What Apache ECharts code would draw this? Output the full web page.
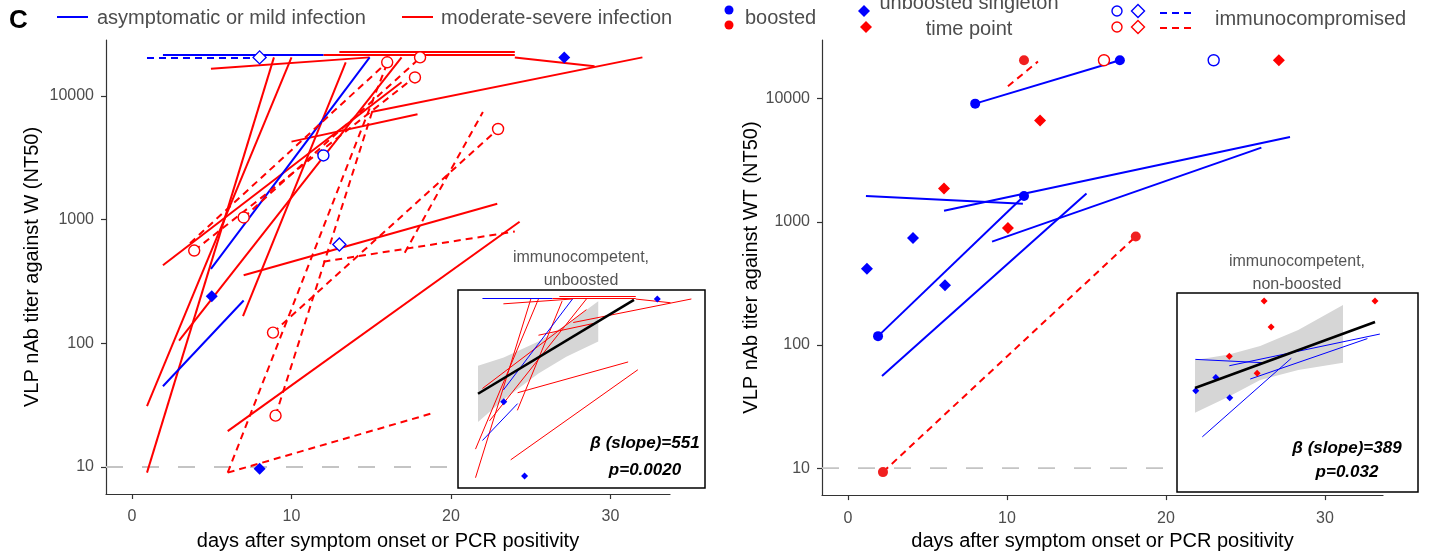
<!DOCTYPE html>
<html>
<head>
<meta charset="utf-8">
<script src="https://cdn.jsdelivr.net/npm/echarts@6/dist/echarts.min.js"></script>
<style>
  html, body { margin: 0; padding: 0; background: #fff; }
  #chart { width: 1438px; height: 556px; }
</style>
</head>
<body>
<div id="chart"></div>
<script>
// Each segment: [dayStart, titerStart, dayEnd, titerEnd]

// ---------- panel W ----------
const wSevereLines = [
  [0.94, 9, 8.9, 20480],
  [0.94, 31, 10.0, 20480],
  [1.94, 427, 16.9, 12900],
  [2.95, 105, 16.9, 20480],
  [6.96, 166, 13.4, 18700],
  [4.95, 16600, 14.9, 20480],
  [12.0, 21500, 24.0, 21500],
  [13.0, 22700, 24.0, 22700],
  [24.0, 20400, 29.0, 17400],
  [15.0, 7400, 32.0, 20480],
  [10.0, 4270, 17.9, 7100],
  [7.0, 355, 22.9, 1345],
  [6.0, 19.5, 24.3, 960]
];
const wMildLines = [
  [1.94, 21500, 12.0, 21500],
  [4.95, 400, 14.9, 20480],
  [1.94, 45, 7.0, 222]
];
const wMildImmunoLines = [
  [0.94, 20480, 8.0, 20480]
];
const wSevereImmunoLines = [
  [3.64, 645, 16.0, 18700],
  [3.9, 562, 17.7, 14100],
  [7.0, 1040, 18.1, 20480],
  [6.0, 9, 15.9, 17000],
  [6.0, 9, 19.0, 27.6],
  [9.0, 26, 15.05, 7400],
  [8.84, 122, 22.95, 5400],
  [12.0, 457, 24.0, 800],
  [17.1, 540, 22.0, 7400]
];
const wSevereImmunoCircles = [[3.9, 562], [7.0, 1040], [8.84, 122], [9.0, 26], [16.0, 18700], [17.74, 14100], [18.06, 20480], [22.95, 5400]];
const wMildImmunoCircles = [[12.0, 3300]];
const wMildImmunoDiamonds = [[8.0, 20480], [13.0, 630]];
const wMildSingletons = [[5.0, 240], [8.0, 9.7], [27.1, 20480]];

// inset fit for panel W
const wFitLine = [[1.3, 340], [23.74, 19700]];
const wBandUpper = [[1.3, 1135], [5, 1637], [10, 3273], [14, 6745], [18.6, 18490]];
const wBandLower = [[1.3, 100], [5, 266], [10, 820], [14, 1687], [18.6, 3273]];

// ---------- panel WT ----------
const wtMildLines = [
  [1.13, 1620, 11.0, 1400],
  [6.04, 1230, 27.8, 4870],
  [9.06, 690, 26.0, 4000],
  [2.14, 56, 15.0, 1700]
];
const wtMildBoostedLines = [
  [8.0, 9100, 17.1, 20480],
  [1.89, 118, 11.07, 1620]
];
const wtSevereImmunoLines = [
  [2.2, 9.3, 18.1, 760],
  [10.06, 12600, 11.95, 20000]
];
const wtMildBoosted = [[8.0, 9100], [17.1, 20480], [11.07, 1620], [1.89, 118]];
const wtSevereBoosted = [[11.07, 20480], [2.2, 9.3], [18.1, 760]];
const wtSevereImmunoCircles = [[16.1, 20480]];
const wtMildImmunoCircles = [[23.0, 20480]];
const wtSevereSingletons = [[6.04, 1860], [12.08, 6650], [10.06, 890], [27.1, 20480]];
const wtMildSingletons = [[4.09, 740], [1.19, 415], [6.1, 305]];
const wtInsetSevereExtra = [[11.07, 20480]];

// inset fit for panel WT
const wtFitLine = [[1.08, 468], [27.1, 8220]];
const wtBandUpper = [[1.08, 1578], [6, 2005], [10.5, 2897], [16, 5810], [22.47, 17200]];
const wtBandLower = [[1.08, 160], [6, 323], [10.5, 662], [16, 1021], [22.47, 1403]];

// axis labels
const dayTicks = [0, 10, 20, 30];
const titerTicks = [10, 100, 1000, 10000];
const xTitle = 'days after symptom onset or PCR positivity';

const RED = '#ff0000';
const BLUE = '#0000ff';
const FONT = "'Liberation Sans', Arial, Helvetica, sans-serif";
const DASH = [7, 5];

function segs(list) {
  return list.map(s => ({ coords: [[s[0], s[1]], [s[2], s[3]]] }));
}
function lines(list, idx, color, width, dashed) {
  return {
    type: 'lines', coordinateSystem: 'cartesian2d', xAxisIndex: idx, yAxisIndex: idx,
    data: segs(list), silent: true, z: 3,
    lineStyle: { color: color, width: width, type: dashed ? DASH : 'solid', opacity: 1, curveness: 0 }
  };
}
function points(list, idx, symbol, size, color, open) {
  return {
    type: 'scatter', xAxisIndex: idx, yAxisIndex: idx, data: list, silent: true, z: 4,
    symbol: symbol, symbolSize: size,
    itemStyle: open ? { color: '#fff', borderColor: color, borderWidth: 1.4, opacity: 1 }
                    : { color: color, opacity: 1 }
  };
}
// confidence band: upper edge then lower edge reversed, closed as one polygon
function band(upper, lower, idx) {
  return {
    type: 'custom', xAxisIndex: idx, yAxisIndex: idx, data: [[upper[0][0], upper[0][1]]],
    silent: true, z: 2,
    renderItem: function (params, api) {
      const pts = upper.map(p => api.coord(p)).concat(lower.slice().reverse().map(p => api.coord(p)));
      return { type: 'polygon', shape: { points: pts }, style: { fill: '#d6d6d6' } };
    }
  };
}
function fit(list, idx) {
  return {
    type: 'line', xAxisIndex: idx, yAxisIndex: idx, data: list, symbol: 'none', silent: true, z: 5,
    lineStyle: { color: '#000', width: 2.6 }
  };
}
function refLine(list, idx) {
  return {
    type: 'line', xAxisIndex: idx, yAxisIndex: idx, data: list, symbol: 'none', silent: true, z: 2,
    lineStyle: { color: '#c4c4c4', width: 1.8, type: [17, 19] }
  };
}

function mainX(idx, min, max, gap) {
  return {
    gridIndex: idx, type: 'value', min: min, max: max,
    axisLine: { show: true, onZero: false, lineStyle: { color: '#333', width: 1.2 } },
    axisTick: { show: true, length: 5, customValues: dayTicks, lineStyle: { color: '#333', width: 1.2 } },
    axisLabel: { customValues: dayTicks, color: '#4d4d4d', fontSize: 16, fontFamily: FONT, margin: 15 },
    splitLine: { show: false },
    name: xTitle, nameLocation: 'middle', nameGap: gap,
    nameTextStyle: { color: '#000', fontSize: 20, fontFamily: FONT }
  };
}
function mainY(idx, min, max, title, gap) {
  return {
    gridIndex: idx, type: 'log', logBase: 10, min: min, max: max,
    axisLine: { show: true, onZero: false, lineStyle: { color: '#333', width: 1.2 } },
    axisTick: { show: true, length: 5, customValues: titerTicks, lineStyle: { color: '#333', width: 1.2 } },
    axisLabel: { customValues: titerTicks, formatter: v => String(Math.round(v)), color: '#4d4d4d', fontSize: 16, fontFamily: FONT, margin: 12 },
    splitLine: { show: false },
    name: title, nameLocation: 'middle', nameGap: gap,
    nameTextStyle: { color: '#000', fontSize: 20, fontFamily: FONT }
  };
}
function insetX(idx, min, max) {
  return { gridIndex: idx, type: 'value', min: min, max: max, show: false, splitLine: { show: false } };
}
function insetY(idx, min, max) {
  return { gridIndex: idx, type: 'log', logBase: 10, min: min, max: max, show: false, splitLine: { show: false } };
}

function diamondPts(cx, cy, s) {
  const h = s / 2;
  return [[cx, cy - h], [cx + h, cy], [cx, cy + h], [cx - h, cy]];
}
function txt(x, y, text, opts) {
  return {
    type: 'text', x: x, y: y, silent: true, z: 50,
    style: Object.assign({ text: text, fill: '#4d4d4d', font: '20px ' + FONT, textVerticalAlign: 'middle', textAlign: 'left' }, opts || {})
  };
}

const legendGraphics = [
  txt(9, 21, 'C', { fill: '#000', font: 'bold 26px ' + FONT }),
  { type: 'line', shape: { x1: 57, y1: 17, x2: 88, y2: 17 }, style: { stroke: BLUE, lineWidth: 2 } },
  txt(97, 18, 'asymptomatic or mild infection'),
  { type: 'line', shape: { x1: 402, y1: 17, x2: 433, y2: 17 }, style: { stroke: RED, lineWidth: 2 } },
  txt(441, 18, 'moderate-severe infection'),
  { type: 'circle', shape: { cx: 729, cy: 10, r: 4.5 }, style: { fill: BLUE } },
  { type: 'circle', shape: { cx: 729, cy: 25, r: 4.5 }, style: { fill: RED } },
  txt(745, 18, 'boosted'),
  { type: 'polygon', shape: { points: diamondPts(864, 11, 12) }, style: { fill: BLUE } },
  { type: 'polygon', shape: { points: diamondPts(866, 27, 12) }, style: { fill: RED } },
  txt(969, 3, 'unboosted singleton', { textAlign: 'center' }),
  txt(969, 29, 'time point', { textAlign: 'center' }),
  { type: 'circle', shape: { cx: 1117, cy: 11, r: 5 }, style: { fill: '#fff', stroke: BLUE, lineWidth: 1.4 } },
  { type: 'circle', shape: { cx: 1117, cy: 27, r: 5 }, style: { fill: '#fff', stroke: RED, lineWidth: 1.4 } },
  { type: 'polygon', shape: { points: diamondPts(1138, 11, 13) }, style: { fill: '#fff', stroke: BLUE, lineWidth: 1.4 } },
  { type: 'polygon', shape: { points: diamondPts(1138, 27, 13) }, style: { fill: '#fff', stroke: RED, lineWidth: 1.4 } },
  { type: 'line', shape: { x1: 1160, y1: 13, x2: 1196, y2: 13 }, style: { stroke: BLUE, lineWidth: 2, lineDash: DASH } },
  { type: 'line', shape: { x1: 1160, y1: 28, x2: 1196, y2: 28 }, style: { stroke: RED, lineWidth: 2, lineDash: DASH } },
  txt(1215, 19, 'immunocompromised'),
  // inset captions
  txt(581, 258, 'immunocompetent,', { textAlign: 'center', fill: '#555', font: '16px ' + FONT }),
  txt(581, 281, 'unboosted', { textAlign: 'center', fill: '#555', font: '16px ' + FONT }),
  txt(1297, 262, 'immunocompetent,', { textAlign: 'center', fill: '#555', font: '16px ' + FONT }),
  txt(1297, 285, 'non-boosted', { textAlign: 'center', fill: '#555', font: '16px ' + FONT }),
  txt(645, 443, 'β (slope)=551', { textAlign: 'center', fill: '#000', font: 'italic bold 17px ' + FONT }),
  txt(645, 470, 'p=0.0020', { textAlign: 'center', fill: '#000', font: 'italic bold 17px ' + FONT }),
  txt(1347, 448, 'β (slope)=389', { textAlign: 'center', fill: '#000', font: 'italic bold 17px ' + FONT }),
  txt(1347, 472, 'p=0.032', { textAlign: 'center', fill: '#000', font: 'italic bold 17px ' + FONT })
];

const W_XMIN = -1.63, W_XMAX = 33.73;
const WT_XMIN = -1.635, WT_XMAX = 33.65;

const option = {
  animation: false,
  backgroundColor: '#fff',
  textStyle: { fontFamily: FONT },
  grid: [
    { left: 106, top: 40, width: 564, height: 455 },
    { left: 822, top: 40, width: 561, height: 458 },
    { left: 458, top: 290, width: 247, height: 198, show: true, backgroundColor: '#fff', borderColor: '#000', borderWidth: 1.5 },
    { left: 1177, top: 293, width: 241, height: 199, show: true, backgroundColor: '#fff', borderColor: '#000', borderWidth: 1.5 }
  ],
  xAxis: [
    mainX(0, W_XMIN, W_XMAX, 37),
    mainX(1, WT_XMIN, WT_XMAX, 34),
    insetX(2, -1.58, 33.96),
    insetX(3, -1.52, 33.31)
  ],
  yAxis: [
    mainY(0, 6.05, 28300, 'VLP nAb titer against W (NT50)', 64),
    mainY(1, 6.05, 29900, 'VLP nAb titer against WT (NT50)', 58),
    insetY(2, 5.77, 30200),
    insetY(3, 5.1, 28970)
  ],
  graphic: legendGraphics,
  series: [
    // panel W
    refLine([[W_XMIN, 10], [20.0, 10]], 0),
    lines(wSevereLines, 0, RED, 2, false),
    lines(wMildLines, 0, BLUE, 2, false),
    lines(wSevereImmunoLines, 0, RED, 2, true),
    lines(wMildImmunoLines, 0, BLUE, 2, true),
    points(wSevereImmunoCircles, 0, 'circle', 11, RED, true),
    points(wMildImmunoCircles, 0, 'circle', 11, BLUE, true),
    points(wMildImmunoDiamonds, 0, 'diamond', 13, BLUE, true),
    points(wMildSingletons, 0, 'diamond', 12, BLUE, false),
    // panel WT
    refLine([[WT_XMIN, 10], [20.2, 10]], 1),
    lines(wtMildLines, 1, BLUE, 2, false),
    lines(wtMildBoostedLines, 1, BLUE, 2, false),
    lines(wtSevereImmunoLines, 1, RED, 2, true),
    points(wtMildBoosted, 1, 'circle', 10, BLUE, false),
    points(wtSevereBoosted, 1, 'circle', 10, '#f02020', false),
    points(wtSevereImmunoCircles, 1, 'circle', 11, RED, true),
    points(wtMildImmunoCircles, 1, 'circle', 11, BLUE, true),
    points(wtSevereSingletons, 1, 'diamond', 12, RED, false),
    points(wtMildSingletons, 1, 'diamond', 12, BLUE, false),
    // inset W
    band(wBandUpper, wBandLower, 2),
    lines(wSevereLines, 2, RED, 1, false),
    lines(wMildLines, 2, BLUE, 1, false),
    fit(wFitLine, 2),
    points(wMildSingletons, 2, 'diamond', 7, BLUE, false),
    // inset WT
    band(wtBandUpper, wtBandLower, 3),
    lines(wtMildLines, 3, BLUE, 1, false),
    fit(wtFitLine, 3),
    points(wtSevereSingletons.concat(wtInsetSevereExtra), 3, 'diamond', 7, RED, false),
    points(wtMildSingletons, 3, 'diamond', 7, BLUE, false)
  ]
};

const chart = echarts.init(document.getElementById('chart'), null, { renderer: 'canvas' });
chart.setOption(option);
</script>
</body>
</html>
